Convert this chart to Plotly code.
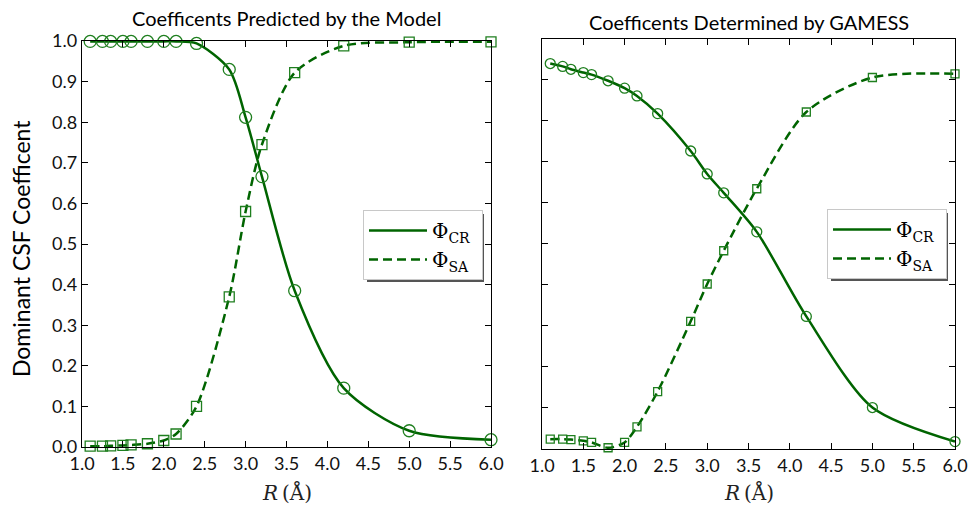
import plotly.graph_objects as go

# ---- data ----
R = [1.1, 1.25, 1.35, 1.5, 1.6, 1.8, 2.0, 2.15, 2.4, 2.8, 3.0, 3.2, 3.6, 4.2, 5.0, 6.0]

model_cr = [0.999, 0.999, 0.999, 0.999, 0.999, 0.999, 0.999, 0.999, 0.994,
            0.930, 0.812, 0.666, 0.385, 0.145, 0.040, 0.018]
model_sa = [0.002, 0.002, 0.003, 0.004, 0.005, 0.008, 0.016, 0.032, 0.100,
            0.370, 0.580, 0.745, 0.922, 0.988, 0.997, 0.998]

gamess_cr = [0.939, 0.932, 0.925, 0.917, 0.912, 0.897, 0.879, 0.860, 0.817,
             0.726, 0.670, 0.624, 0.529, 0.323, 0.101, 0.018]
gamess_sa = [0.024, 0.024, 0.023, 0.020, 0.016, 0.003, 0.016, 0.054, 0.140,
             0.311, 0.402, 0.483, 0.634, 0.821, 0.905, 0.914]

x_ticks = [1.0, 1.5, 2.0, 2.5, 3.0, 3.5, 4.0, 4.5, 5.0, 5.5, 6.0]
y_ticks = [0.0, 0.1, 0.2, 0.3, 0.4, 0.5, 0.6, 0.7, 0.8, 0.9, 1.0]

titles = ["Coefficents Predicted by the Model", "Coefficents Determined by GAMESS"]
y_title = "Dominant CSF Coefficent"
x_title = "<i>R</i>\u2009(Å)"
leg_cr = "Φ<sub>CR</sub>\u00a0"
leg_sa = "Φ<sub>SA</sub>\u00a0"

LINE = "#006400"
MARK = "#1f7f1f"
SANS = "Lato, 'DejaVu Sans', sans-serif"
SERIF = "'DejaVu Serif', 'Liberation Serif', serif"

W, H = 970, 505
fig = go.Figure()

panels = [
    dict(cr=model_cr, sa=model_sa, xa="x", ya="y", legend="legend", msize=12),
    dict(cr=gamess_cr, sa=gamess_sa, xa="x2", ya="y2", legend="legend2", msize=10),
]
for p in panels:
    fig.add_trace(go.Scatter(x=R, y=p["cr"], mode="lines", name=leg_cr,
                             line=dict(color=LINE, width=2.5, shape="spline", smoothing=0.8),
                             xaxis=p["xa"], yaxis=p["ya"], legend=p["legend"]))
    fig.add_trace(go.Scatter(x=R, y=p["sa"], mode="lines", name=leg_sa,
                             line=dict(color=LINE, width=2.5, dash="9px,5px", shape="spline", smoothing=0.8),
                             xaxis=p["xa"], yaxis=p["ya"], legend=p["legend"]))
    fig.add_trace(go.Scatter(x=R, y=p["cr"], mode="markers", showlegend=False,
                             marker=dict(symbol="circle-open", size=p["msize"], color=MARK,
                                         line=dict(width=1.3, color=MARK)),
                             xaxis=p["xa"], yaxis=p["ya"], cliponaxis=False))
    fig.add_trace(go.Scatter(x=R, y=p["sa"], mode="markers", showlegend=False,
                             marker=dict(symbol="square-open", size=p["msize"] - 2, color=MARK,
                                         line=dict(width=1.3, color=MARK)),
                             xaxis=p["xa"], yaxis=p["ya"], cliponaxis=False))

def px_x(v):
    return v / W

def px_y(v):
    return 1 - v / H

axis_common = dict(showgrid=False, zeroline=False, showline=True, linecolor="black",
                   linewidth=1.3, mirror="ticks", ticks="inside", ticklen=6,
                   tickwidth=1.1, tickcolor="black", automargin=False,
                   tickfont=dict(family=SANS, size=18, color="#111"))

legend_common = dict(xanchor="left", yanchor="top", bgcolor="white",
                     bordercolor="#c8c8c8", borderwidth=1, itemwidth=58,
                     font=dict(family=SERIF, size=20, color="black"))

fig.update_layout(
    width=W, height=H,
    margin=dict(l=0, r=0, t=0, b=0),
    paper_bgcolor="white", plot_bgcolor="white",
    xaxis=dict(domain=[px_x(82), px_x(491)], range=[1.0, 6.0], tickvals=x_ticks,
               tickformat=".1f", anchor="y", **axis_common),
    yaxis=dict(domain=[px_y(447), px_y(41)], range=[0.0, 1.0], tickvals=y_ticks,
               tickformat=".1f", anchor="x", **axis_common),
    xaxis2=dict(domain=[px_x(542), px_x(955)], range=[1.0, 6.0], tickvals=x_ticks,
                tickformat=".1f", anchor="y2", **axis_common),
    yaxis2=dict(domain=[px_y(449), px_y(38.5)], range=[0.0, 1.0], tickvals=y_ticks,
                showticklabels=False, anchor="x2", **axis_common),
    legend=dict(x=px_x(363), y=px_y(210), **legend_common),
    legend2=dict(x=px_x(827), y=px_y(209), **legend_common),
    showlegend=True,
)

# legend shadows
for x0, y0, x1, y1 in [(367, 214, 484, 282), (831, 213, 948, 281)]:
    fig.add_shape(type="rect", xref="paper", yref="paper",
                  x0=px_x(x0), x1=px_x(x1), y0=px_y(y1), y1=px_y(y0),
                  fillcolor="#555555", line=dict(width=0), layer="above")

anns = [
    dict(text=titles[0], x=px_x(286.5), y=px_y(18)),
    dict(text=titles[1], x=px_x(748.5), y=px_y(22)),
]
for a in anns:
    fig.add_annotation(text=a["text"], x=a["x"], y=a["y"], xref="paper", yref="paper",
                       showarrow=False, xanchor="center", yanchor="middle",
                       font=dict(family=SANS, size=20, color="black"))
fig.add_annotation(text=y_title, x=px_x(21), y=px_y(249), xref="paper", yref="paper",
                   showarrow=False, textangle=-90, xanchor="center", yanchor="middle",
                   font=dict(family=SANS, size=23, color="black"))
for cx in [286.5, 748.5]:
    fig.add_annotation(text=x_title, x=px_x(cx), y=px_y(492), xref="paper", yref="paper",
                       showarrow=False, xanchor="center", yanchor="middle",
                       font=dict(family=SERIF, size=20, color="#222"))

fig.write_html("out.html")
